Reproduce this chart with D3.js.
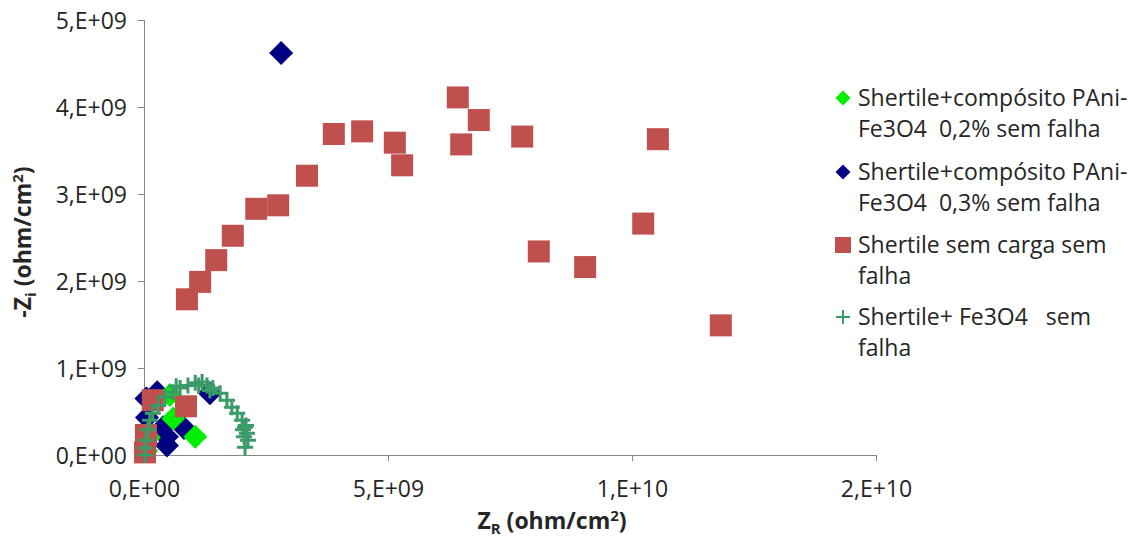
<!DOCTYPE html>
<html>
<head>
<meta charset="utf-8">
<script src="https://cdn.jsdelivr.net/npm/d3@7"></script>
<style>
  body { margin: 0; background: #fff; }
  svg { display: block; font-family: "Open Sans", sans-serif; }
</style>
</head>
<body>
<svg id="chart" width="1137" height="539"></svg>
<script>
// values (Z in ohm/cm2)
var xTicks = [0, 5e9, 1e10, 1.5e10];
var xTickLabels = ["0,E+00", "5,E+09", "1,E+10", "2,E+10"];
var yTicks = [0, 1e9, 2e9, 3e9, 4e9, 5e9];
var yTickLabels = ["0,E+00", "1,E+09", "2,E+09", "3,E+09", "4,E+09", "5,E+09"];

// Shertile+compósito PAni-Fe3O4 0,2% sem falha
var greenX = [1.05e9, 0.60e9, 0.53e9, 0.10e9, 0.05e9];
var greenY = [0.21e9, 0.42e9, 0.69e9, 0.20e9, 0.05e9];

// Shertile+compósito PAni-Fe3O4 0,3% sem falha
var blueX = [2.81e9, 1.35e9, 0.27e9, 0.06e9, 0.47e9, 0.82e9, 0.39e9, 0.47e9, 0.05e9];
var blueY = [4.62e9, 0.71e9, 0.72e9, 0.43e9, 0.21e9, 0.31e9, 0.32e9, 0.11e9, 0.65e9];

// Shertile sem carga sem falha
var redX = [0.88e9, 1.15e9, 1.48e9, 1.82e9, 2.30e9, 2.75e9, 3.34e9, 3.89e9, 4.47e9, 5.14e9,
            5.29e9, 6.43e9, 6.50e9, 6.86e9, 7.75e9, 8.09e9, 9.04e9, 10.23e9, 10.53e9, 11.82e9,
            0.18e9, 0.86e9, 0.04e9, 0.02e9];
var redY = [1.79e9, 1.99e9, 2.24e9, 2.52e9, 2.83e9, 2.87e9, 3.21e9, 3.69e9, 3.72e9, 3.59e9,
            3.33e9, 4.11e9, 3.57e9, 3.85e9, 3.66e9, 2.34e9, 2.16e9, 2.66e9, 3.63e9, 1.49e9,
            0.63e9, 0.56e9, 0.23e9, 0.03e9];

// Shertile+ Fe3O4 sem falha
var plusX = [0.02e9, 0.02e9, 0.04e9, 0.08e9, 0.12e9, 0.18e9, 0.29e9, 0.43e9, 0.59e9, 0.74e9,
             0.90e9, 1.05e9, 1.19e9, 1.29e9, 1.41e9, 1.56e9, 1.70e9, 1.80e9, 1.91e9, 2.01e9,
             2.07e9, 2.11e9, 2.13e9, 2.07e9, 2.03e9, 2.09e9, 0.66e9, 1.12e9, 1.35e9, 2.05e9];
var plusY = [0.00e9, 0.08e9, 0.17e9, 0.29e9, 0.40e9, 0.48e9, 0.57e9, 0.67e9, 0.72e9, 0.77e9,
             0.80e9, 0.83e9, 0.84e9, 0.80e9, 0.77e9, 0.71e9, 0.63e9, 0.55e9, 0.48e9, 0.40e9,
             0.32e9, 0.25e9, 0.17e9, 0.09e9, 0.29e9, 0.34e9, 0.79e9, 0.80e9, 0.74e9, 0.21e9];

var legendLines = [
  ["Shertile+compósito PAni-", "Fe3O4  0,2% sem falha"],
  ["Shertile+compósito PAni-", "Fe3O4  0,3% sem falha"],
  ["Shertile sem carga sem", "falha"],
  ["Shertile+ Fe3O4   sem", "falha"]
];

var svg = d3.select("#chart");
var plotLeft = 144, plotRight = 876, plotTop = 20, plotBottom = 455;
var axisColor = "#868686";
var textColor = "#262626";

var x = d3.scaleLinear().domain([0, 1.5e10]).range([plotLeft, plotRight]);
var y = d3.scaleLinear().domain([0, 5e9]).range([plotBottom, plotTop]);

// axes
var xAxis = d3.axisBottom(x).tickValues(xTicks).tickSize(6)
  .tickFormat(function(d, i) { return xTickLabels[i]; });
var yAxis = d3.axisLeft(y).tickValues(yTicks).tickSize(6)
  .tickFormat(function(d, i) { return yTickLabels[i]; });

var gx = svg.append("g").attr("transform", "translate(0," + plotBottom + ")").call(xAxis);
var gy = svg.append("g").attr("transform", "translate(" + plotLeft + ",0)").call(yAxis);
[gx, gy].forEach(function(g) {
  g.select(".domain").attr("stroke", axisColor);
  g.selectAll(".tick line").attr("stroke", axisColor);
  g.selectAll(".tick text").attr("fill", textColor)
    .style("font-size", "23px").style("font-family", "Open Sans, sans-serif");
});
gx.selectAll(".tick text").attr("y", 34).attr("dy", "0.35em");
gy.selectAll(".tick text").attr("x", -17).attr("dy", "0.35em");

// markers
var diamond = function(s) {
  return "M0," + (-s) + "L" + s + ",0L0," + s + "L" + (-s) + ",0Z";
};
var plusPath = function(s) {
  return "M" + (-s) + ",0H" + s + "M0," + (-s) + "V" + s;
};
var plot = svg.append("g");

var drawDiamonds = function(xs, ys, color) {
  plot.append("g").selectAll("path").data(xs).enter().append("path")
    .attr("transform", function(d, i) { return "translate(" + x(d) + "," + y(ys[i]) + ")"; })
    .attr("d", diamond(12))
    .attr("fill", color);
};
drawDiamonds(blueX, blueY, "#000080");
drawDiamonds(greenX, greenY, "#00EE00");

plot.append("g").selectAll("rect").data(redX).enter().append("rect")
  .attr("x", function(d) { return x(d) - 11; })
  .attr("y", function(d, i) { return y(redY[i]) - 11; })
  .attr("width", 22).attr("height", 22)
  .attr("fill", "#C0504D");

plot.append("g").selectAll("path").data(plusX).enter().append("path")
  .attr("transform", function(d, i) { return "translate(" + x(d) + "," + y(plusY[i]) + ")"; })
  .attr("d", plusPath(8))
  .attr("stroke", "#3A9A68").attr("stroke-width", 3).attr("fill", "none");

// axis titles
var addTitle = function(el, main, sub) {
  el.append("tspan").text(main);
  el.append("tspan").text(sub).style("font-size", "15px").attr("dy", 5);
  el.append("tspan").text(" (ohm/cm").attr("dy", -5);
  el.append("tspan").text("2").style("font-size", "15px").attr("dy", -8);
  el.append("tspan").text(")").attr("dy", 8);
};
var yTitle = svg.append("text")
  .attr("transform", "translate(31,242) rotate(-90)")
  .attr("text-anchor", "middle")
  .style("font-size", "23px").style("font-weight", "bold").attr("fill", textColor);
addTitle(yTitle, "-Z", "i");

var xTitle = svg.append("text")
  .attr("x", 552).attr("y", 529)
  .attr("text-anchor", "middle")
  .style("font-size", "23px").style("font-weight", "bold").attr("fill", textColor);
addTitle(xTitle, "Z", "R");

// legend
var legendTop = [98, 172, 245, 317];
var legend = svg.append("g");
legendLines.forEach(function(lines, i) {
  var cy = legendTop[i];
  var m = legend.append("g").attr("transform", "translate(843," + cy + ")");
  if (i == 0) m.append("path").attr("d", diamond(7.5)).attr("fill", "#00EE00");
  if (i == 1) m.append("path").attr("d", diamond(7.5)).attr("fill", "#000080");
  if (i == 2) m.append("rect").attr("x", -8).attr("y", -8).attr("width", 16).attr("height", 16).attr("fill", "#C0504D");
  if (i == 3) m.append("path").attr("d", plusPath(7)).attr("stroke", "#3A9A68").attr("stroke-width", 2).attr("fill", "none");
  lines.forEach(function(t, j) {
    legend.append("text")
      .attr("x", 858).attr("y", cy + j * 31).attr("dy", "0.35em")
      .attr("fill", textColor)
      .style("font-size", "23px")
      .style("white-space", "pre")
      .text(t);
  });
});
</script>
</body>
</html>
